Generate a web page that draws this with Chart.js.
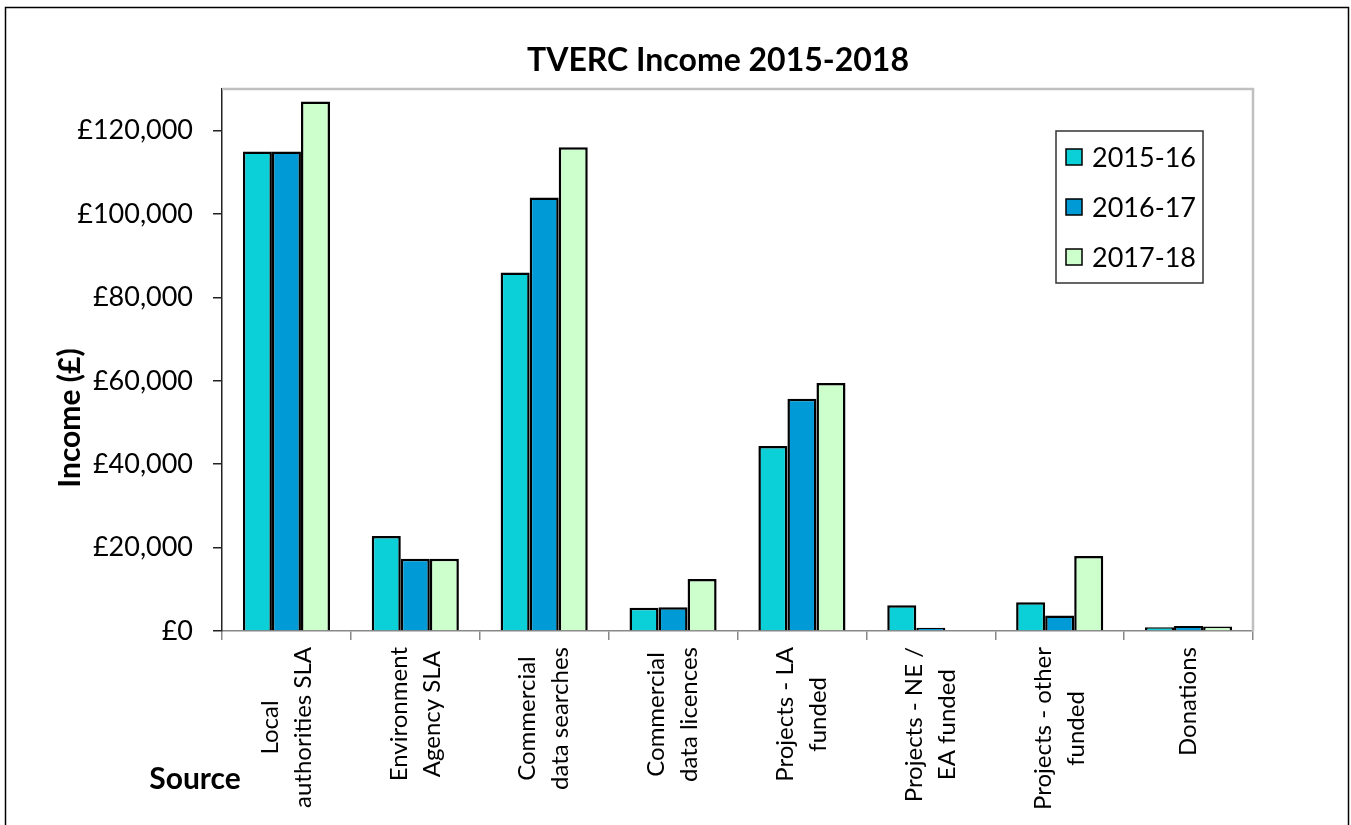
<!DOCTYPE html>
<html>
<head>
<meta charset="utf-8">
<script src="https://cdn.jsdelivr.net/npm/chart.js@4"></script>
<style>
  body { margin: 0; background: #fff; }
  #wrap { width: 1351px; height: 825px; }
</style>
</head>
<body>
<div id="wrap"><canvas id="incomeChart" width="1351" height="825"></canvas></div>
<script>
// chart data
const categories = [
    ['Local', 'authorities SLA'],
    ['Environment', 'Agency SLA'],
    ['Commercial', 'data searches'],
    ['Commercial', 'data licences'],
    ['Projects - LA', 'funded'],
    ['Projects - NE /', 'EA funded'],
    ['Projects - other', 'funded'],
    ['Donations']
];
const seriesNames = ['2015-16', '2016-17', '2017-18'];
const income1516 = [115000, 22800, 86000, 5600, 44400, 6200, 6900, 900];
const income1617 = [115000, 17300, 104000, 5700, 55700, 800, 3700, 1200];
const income1718 = [127000, 17300, 116000, 12500, 59500, 0, 18000, 1100];
const yTickValues = [0, 20000, 40000, 60000, 80000, 100000, 120000];
const seriesColours = ['#0cd0d8', '#009bd6', '#ccffcc'];

const FONT = 'Lato';

function money(v) {
    return '£' + v.toLocaleString('en-GB');
}

// extra drawing: frame, titles, legend box, centred x labels
const decorations = {
    id: 'decorations',
    afterDraw(chart) {
        const ctx = chart.ctx;
        const area = chart.chartArea;
        ctx.save();

        // outer frame
        ctx.strokeStyle = '#000';
        ctx.lineWidth = 1.5;
        ctx.strokeRect(5.5, 7.5, 1343, 840);

        // plot area top/right border
        ctx.strokeStyle = '#c0c0c0';
        ctx.lineWidth = 2.5;
        ctx.beginPath();
        ctx.moveTo(area.left, area.top);
        ctx.lineTo(area.right, area.top);
        ctx.lineTo(area.right, area.bottom);
        ctx.stroke();

        // title
        ctx.fillStyle = '#000';
        ctx.textAlign = 'center';
        ctx.textBaseline = 'middle';
        ctx.font = 'bold 32px ' + FONT;
        ctx.fillText('TVERC Income 2015-2018', 718, 61);

        // y title
        ctx.save();
        ctx.translate(70, 418);
        ctx.rotate(-Math.PI / 2);
        ctx.font = 'bold 30px ' + FONT;
        ctx.fillText('Income (£)', 0, 0);
        ctx.restore();

        // x title
        ctx.font = 'bold 30px ' + FONT;
        ctx.fillText('Source', 195, 779);

        // x labels, each line centred in its block
        const xs = chart.scales.x;
        ctx.font = '24px ' + FONT;
        ctx.textBaseline = 'middle';
        const lineH = 33;
        categories.forEach((lab, i) => {
            const lines = Array.isArray(lab) ? lab : [lab];
            const maxW = Math.max(...lines.map(l => ctx.measureText(l).width));
            const cx = xs.getPixelForTick(i);
            const top = area.bottom + 16;
            ctx.save();
            ctx.translate(cx, top + maxW / 2);
            ctx.rotate(-Math.PI / 2);
            const off = (lines.length - 1) * lineH / 2;
            lines.forEach((l, j) => ctx.fillText(l, 0, -off + j * lineH));
            ctx.restore();
        });

        // legend
        const lx = 1056, ly = 131, lw = 147, lh = 152;
        ctx.fillStyle = '#fff';
        ctx.fillRect(lx, ly, lw, lh);
        ctx.strokeStyle = '#333';
        ctx.lineWidth = 1.5;
        ctx.strokeRect(lx, ly, lw, lh);
        ctx.textAlign = 'left';
        ctx.font = '27px ' + FONT;
        chart.data.datasets.forEach((ds, i) => {
            const y = ly + 26 + i * 50;
            ctx.fillStyle = ds.backgroundColor;
            ctx.fillRect(lx + 10, y - 8, 16, 16);
            ctx.strokeStyle = '#000';
            ctx.lineWidth = 1.5;
            ctx.strokeRect(lx + 10, y - 8, 16, 16);
            ctx.fillStyle = '#000';
            ctx.fillText(ds.label, lx + 36, y + 1);
        });

        ctx.restore();
    }
};

const config = {
    type: 'bar',
    data: {
        labels: categories,
        datasets: [income1516, income1617, income1718].map((vals, i) => ({
            label: seriesNames[i],
            data: vals,
            backgroundColor: seriesColours[i],
            borderColor: '#000',
            borderWidth: 2.5,
            borderSkipped: 'bottom',
            barPercentage: 1,
            categoryPercentage: 0.676
        }))
    },
    options: {
        responsive: false,
        animation: false,
        layout: { padding: { top: 89, right: 98, left: 0, bottom: 0 } },
        plugins: {
            legend: { display: false },
            title: { display: false },
            tooltip: { enabled: false }
        },
        scales: {
            x: {
                afterFit(scale) { scale.height = 194; },
                border: { color: '#888', width: 1.5 },
                grid: {
                    offset: true,
                    drawOnChartArea: false,
                    tickLength: 9,
                    color: '#888',
                    lineWidth: 1.5
                },
                ticks: {
                    color: 'transparent',
                    minRotation: 90,
                    maxRotation: 90,
                    font: { family: FONT, size: 24 }
                }
            },
            y: {
                min: 0,
                max: 130000,
                afterFit(scale) { scale.width = 222; },
                afterBuildTicks(scale) {
                    scale.ticks = yTickValues.map(v => ({ value: v }));
                },
                border: { color: '#222', width: 1.5 },
                grid: {
                    drawOnChartArea: false,
                    tickLength: 9,
                    color: '#222',
                    lineWidth: 1.5
                },
                ticks: {
                    autoSkip: false,
                    padding: 20,
                    color: '#000',
                    font: { family: FONT, size: 27 },
                    callback: v => money(v)
                }
            }
        }
    },
    plugins: [decorations]
};

const incomeChart = new Chart(document.getElementById('incomeChart'), config);
</script>
</body>
</html>
